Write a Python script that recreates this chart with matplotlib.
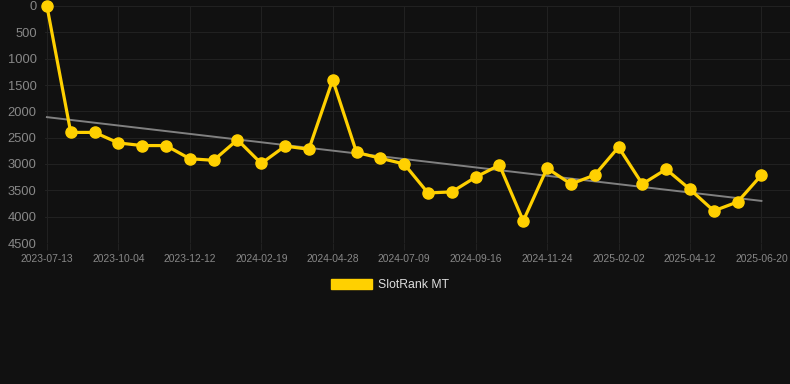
import numpy as np
import matplotlib.pyplot as plt
from matplotlib.patches import Patch

plt.rcParams['font.family'] = ['Liberation Sans', 'DejaVu Sans']

# SlotRank MT values (rank, lower is better) - one point per period
ranks = [0, 2400, 2400, 2600, 2650, 2650, 2900, 2930, 2540, 2990,
         2660, 2720, 1400, 2780, 2890, 3000, 3550, 3530, 3250, 3020,
         4080, 3080, 3380, 3210, 2680, 3380, 3100, 3480, 3890, 3720,
         3210]
tick_labels = ['2023-07-13', '2023-10-04', '2023-12-12', '2024-02-19',
               '2024-04-28', '2024-07-09', '2024-09-16', '2024-11-24',
               '2025-02-02', '2025-04-12', '2025-06-20']
tick_step = 3
y_ticks = [0, 500, 1000, 1500, 2000, 2500, 3000, 3500, 4000, 4500]

bg = '#111111'
gold = '#ffd000'
grid_col = '#212121'

x = np.arange(len(ranks))
slope, icept = np.polyfit(x, ranks, 1)
trend = slope * x + icept

fig = plt.figure(figsize=(7.9, 3.84), dpi=100, facecolor=bg)
ax = fig.add_axes([45 / 790, 1 - 243 / 384, 1 - 45 / 790, 237 / 384])
ax.set_facecolor(bg)

ax.plot(x, trend, color='#808080', linewidth=1.4, zorder=2)
ax.plot(x, ranks, color=gold, linewidth=2.3, marker='o', markersize=8,
        zorder=3, clip_on=False)

ax.set_ylim(4500, 0)
ax.set_xlim(-0.08, 31.2)
ax.set_yticks(y_ticks)
ax.set_yticklabels([str(v) for v in y_ticks])
ax.set_xticks(x[::tick_step])
ax.set_xticklabels(tick_labels)

ax.grid(True, color=grid_col, linewidth=0.8)
ax.set_axisbelow(True)
for s in ax.spines.values():
    s.set_visible(False)
ax.tick_params(axis='y', colors='#888888', labelsize=9.3, length=0, pad=6)
ax.tick_params(axis='x', colors=grid_col, labelcolor='#888888', labelsize=7.4,
               length=5, pad=3)

handle = Patch(facecolor=gold, edgecolor=gold)
leg = fig.legend([handle], ['SlotRank MT'], loc='center',
                 bbox_to_anchor=(390 / 790, 1 - 285 / 384), frameon=False,
                 handlelength=3.3, handleheight=0.9, handletextpad=0.5,
                 prop={'size': 8.8})
for t in leg.get_texts():
    t.set_color('#dddddd')

fig.savefig('out.png', dpi=100, facecolor=bg)
